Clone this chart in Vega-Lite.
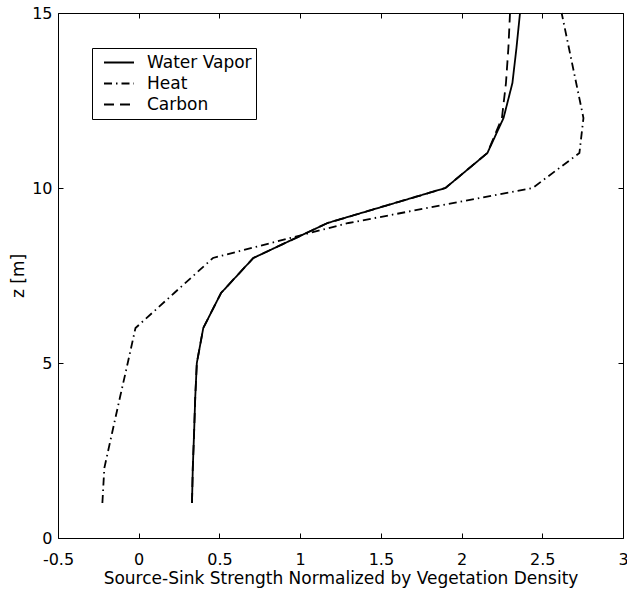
{
  "$schema": "https://vega.github.io/schema/vega-lite/v6.json",
  "width": 565,
  "height": 525,
  "autosize": {"type": "none"},
  "padding": {"left": 58, "top": 13, "right": 4, "bottom": 54},
  "background": "white",
  "config": {
    "font": "DejaVu Sans",
    "view": {"stroke": "black", "strokeWidth": 1},
    "axis": {
      "domain": false,
      "grid": false,
      "tickColor": "black",
      "tickSize": -5,
      "tickWidth": 1,
      "labelColor": "black",
      "labelFontSize": 16,
      "titleColor": "black",
      "titleFontSize": 17,
      "titleFontWeight": "normal",
      "labelFlush": false,
      "labelOverlap": false
    }
  },
  "data": {
    "values": [
      {"series": "Water Vapor", "z": 1, "strength": 0.33},
      {"series": "Water Vapor", "z": 2, "strength": 0.335},
      {"series": "Water Vapor", "z": 3, "strength": 0.343},
      {"series": "Water Vapor", "z": 4, "strength": 0.35},
      {"series": "Water Vapor", "z": 5, "strength": 0.36},
      {"series": "Water Vapor", "z": 6, "strength": 0.40},
      {"series": "Water Vapor", "z": 7, "strength": 0.51},
      {"series": "Water Vapor", "z": 8, "strength": 0.71},
      {"series": "Water Vapor", "z": 9, "strength": 1.17},
      {"series": "Water Vapor", "z": 10, "strength": 1.90},
      {"series": "Water Vapor", "z": 11, "strength": 2.16},
      {"series": "Water Vapor", "z": 12, "strength": 2.26},
      {"series": "Water Vapor", "z": 13, "strength": 2.315},
      {"series": "Water Vapor", "z": 14, "strength": 2.34},
      {"series": "Water Vapor", "z": 15, "strength": 2.362},
      {"series": "Heat", "z": 1, "strength": -0.225},
      {"series": "Heat", "z": 2, "strength": -0.213},
      {"series": "Heat", "z": 3, "strength": -0.165},
      {"series": "Heat", "z": 4, "strength": -0.117},
      {"series": "Heat", "z": 5, "strength": -0.068},
      {"series": "Heat", "z": 6, "strength": -0.02},
      {"series": "Heat", "z": 7, "strength": 0.22},
      {"series": "Heat", "z": 8, "strength": 0.46},
      {"series": "Heat", "z": 9, "strength": 1.30},
      {"series": "Heat", "z": 10, "strength": 2.44},
      {"series": "Heat", "z": 11, "strength": 2.73},
      {"series": "Heat", "z": 12, "strength": 2.755},
      {"series": "Heat", "z": 13, "strength": 2.71},
      {"series": "Heat", "z": 14, "strength": 2.665},
      {"series": "Heat", "z": 15, "strength": 2.62},
      {"series": "Carbon", "z": 1, "strength": 0.33},
      {"series": "Carbon", "z": 2, "strength": 0.335},
      {"series": "Carbon", "z": 3, "strength": 0.343},
      {"series": "Carbon", "z": 4, "strength": 0.35},
      {"series": "Carbon", "z": 5, "strength": 0.36},
      {"series": "Carbon", "z": 6, "strength": 0.40},
      {"series": "Carbon", "z": 7, "strength": 0.51},
      {"series": "Carbon", "z": 8, "strength": 0.71},
      {"series": "Carbon", "z": 9, "strength": 1.17},
      {"series": "Carbon", "z": 10, "strength": 1.90},
      {"series": "Carbon", "z": 11, "strength": 2.16},
      {"series": "Carbon", "z": 12, "strength": 2.25},
      {"series": "Carbon", "z": 13, "strength": 2.275},
      {"series": "Carbon", "z": 14, "strength": 2.29},
      {"series": "Carbon", "z": 15, "strength": 2.30}
    ]
  },
  "layer": [
    {
      "mark": {"type": "line", "color": "black", "strokeWidth": 1.8, "strokeCap": "butt"},
      "encoding": {
        "x": {
          "field": "strength", "type": "quantitative",
          "scale": {"domain": [-0.5, 3], "nice": false, "zero": false},
          "axis": {
            "values": [-0.5, 0, 0.5, 1, 1.5, 2, 2.5, 3],
            "labelExpr": "datum.value + ''",
            "labelPadding": 18,
            "title": "Source-Sink Strength Normalized by Vegetation Density",
            "titlePadding": 3
          }
        },
        "y": {
          "field": "z", "type": "quantitative",
          "scale": {"domain": [0, 15], "nice": false, "zero": false},
          "axis": {
            "values": [0, 5, 10, 15],
            "labelPadding": 11,
            "title": "z [m]",
            "titlePadding": 4
          }
        },
        "strokeDash": {
          "field": "series", "type": "nominal",
          "scale": {"domain": ["Water Vapor", "Heat", "Carbon"], "range": [[1, 0], [8, 4, 1.5, 4], [10, 6]]},
          "legend": {
            "orient": "none",
            "legendX": 34,
            "legendY": 35,
            "title": null,
            "symbolType": "stroke",
            "symbolStrokeColor": "black",
            "symbolStrokeWidth": 1.8,
            "symbolSize": 900,
            "labelFontSize": 17,
            "labelColor": "black",
            "labelOffset": 12,
            "strokeColor": "black",
            "fillColor": "white",
            "padding": 4,
            "clipHeight": 21,
            "rowPadding": 0,
            "symbolOffset": 7
          }
        },
        "order": {"field": "z", "type": "quantitative"}
      }
    },
    {
      "mark": {"type": "line", "opacity": 0},
      "encoding": {
        "x": {
          "field": "strength", "type": "quantitative",
          "scale": {"domain": [-0.5, 3], "nice": false, "zero": false},
          "axis": {"orient": "top", "values": [-0.5, 0, 0.5, 1, 1.5, 2, 2.5, 3], "labels": false, "title": null}
        },
        "y": {
          "field": "z", "type": "quantitative",
          "scale": {"domain": [0, 15], "nice": false, "zero": false},
          "axis": {"orient": "right", "values": [0, 5, 10, 15], "labels": false, "title": null}
        }
      }
    }
  ],
  "resolve": {"axis": {"x": "independent", "y": "independent"}}
}
